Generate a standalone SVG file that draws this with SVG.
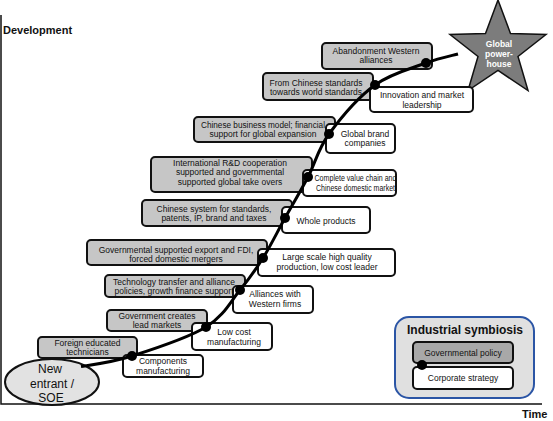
<svg xmlns="http://www.w3.org/2000/svg" width="553" height="421" viewBox="0 0 553 421">
<style>
text{font-family:"Liberation Sans",Arial,sans-serif;fill:#111;}
.t{font-size:8.5px;text-anchor:middle;}
.g{fill:#c6c6c6;stroke:#111;stroke-width:2;}
.w{fill:#fff;stroke:#111;stroke-width:2;}
.dot{fill:#000;}
.axis{stroke:#111;stroke-width:1.5;fill:none;}
.b{font-weight:bold;}
</style>
<rect width="553" height="421" fill="#fff"/>
<g id="axes">
<path class="axis" d="M1,15 V404 H542"/>
<text x="3" y="34" class="b" font-size="11">Development</text>
<text x="522" y="418" class="b" font-size="11">Time</text>
</g>
<g id="star">
<polygon points="498,0 510.5,33.5 546,34.5 518,56.5 528,90.5 498,70.5 468,90.5 478,56.5 450,34.5 485.5,33.5" fill="#7c7c7c" stroke="#111" stroke-width="1.5"/>
<text x="499" y="47" class="t b" style="fill:#fff">Global</text>
<text x="499" y="57" class="t b" style="fill:#fff">power-</text>
<text x="499" y="67" class="t b" style="fill:#fff">house</text>
</g>
<g id="new-entrant">
<ellipse cx="52" cy="382" rx="47" ry="23" fill="#e2e2e2" stroke="#111" stroke-width="2"/>
<text x="50" y="373" font-size="12" text-anchor="middle">New</text>
<text x="52" y="388" font-size="12" text-anchor="middle">entrant /</text>
<text x="51" y="402" font-size="12" text-anchor="middle">SOE</text>
</g>
<g id="n1"><rect class="g" x="38" y="337" width="99" height="21" rx="4"/><text class="t" x="87.5" y="346">Foreign educated</text><text class="t" x="87.5" y="355">technicians</text></g>
<g id="n2"><rect class="w" x="123" y="355" width="80" height="22" rx="4"/><text class="t" x="163" y="364">Components</text><text class="t" x="163" y="374">manufacturing</text></g>
<g id="n3"><rect class="g" x="107" y="310" width="100" height="21" rx="4"/><text class="t" x="157" y="319">Government creates</text><text class="t" x="157" y="328">lead markets</text></g>
<g id="n4"><rect class="w" x="192" y="323" width="80" height="27" rx="4"/><text class="t" x="234" y="335">Low cost</text><text class="t" x="234" y="345">manufacturing</text></g>
<g id="n5"><rect class="g" x="105" y="275" width="140" height="22" rx="4"/><text class="t" x="174" y="285">Technology transfer and alliance</text><text class="t" x="174" y="294">policies, growth finance support</text></g>
<g id="n6"><rect class="w" x="233" y="286" width="80" height="27" rx="4"/><text class="t" x="275" y="297">Alliances with</text><text class="t" x="275" y="307">Western firms</text></g>
<g id="n7"><rect class="g" x="87" y="240" width="180" height="25" rx="4"/><text class="t" x="176" y="253">Governmental supported export and FDI,</text><text class="t" x="176" y="262">forced domestic mergers</text></g>
<g id="n8"><rect class="w" x="258" y="249" width="137" height="27" rx="4"/><text class="t" x="327" y="260">Large scale high quality</text><text class="t" x="327" y="270">production, low cost leader</text></g>
<g id="n9"><rect class="g" x="142" y="200" width="150" height="26" rx="4"/><text class="t" x="214" y="212">Chinese system for standards,</text><text class="t" x="214" y="221">patents, IP,  brand and taxes</text></g>
<g id="n10"><rect class="w" x="282" y="207" width="88" height="26" rx="4"/><text class="t" x="326" y="224">Whole products</text></g>
<g id="n11"><rect class="g" x="151" y="157" width="161" height="35" rx="4"/><text class="t" x="230" y="166">International R&amp;D cooperation</text><text class="t" x="230" y="175">supported and governmental</text><text class="t" x="230" y="185">supported global take overs</text></g>
<g id="n12"><rect class="w" x="303" y="170" width="93" height="26" rx="4"/><text class="t" x="355.5" y="181" textLength="82" lengthAdjust="spacingAndGlyphs">Complete value chain and</text><text class="t" x="355.5" y="191" textLength="79" lengthAdjust="spacingAndGlyphs">Chinese domestic market</text></g>
<g id="n13"><rect class="g" x="194" y="117" width="141" height="25" rx="4"/><text class="t" x="263" y="128" textLength="124" lengthAdjust="spacingAndGlyphs">Chinese business model; financial</text><text class="t" x="263" y="137">support for global expansion</text></g>
<g id="n14"><rect class="w" x="326" y="124" width="69" height="29" rx="4"/><text class="t" x="365" y="137">Global brand</text><text class="t" x="365" y="146">companies</text></g>
<g id="n15"><rect class="g" x="263" y="73" width="110" height="27" rx="4"/><text class="t" x="316" y="86">From Chinese standards</text><text class="t" x="316" y="95">towards world standards</text></g>
<g id="n16"><rect class="w" x="370" y="87" width="103" height="25" rx="4"/><text class="t" x="422" y="98">Innovation and market</text><text class="t" x="422" y="108">leadership</text></g>
<g id="n17"><rect class="g" x="322" y="43" width="110" height="26" rx="4"/><text class="t" x="376" y="54">Abandonment Western</text><text class="t" x="376" y="63">alliances</text></g>
<g id="connectors">
<path d="M81,366.5 C88.7,365.2 111,362.7 132,356 C153,349.3 188,338 206,327 C224,316 230.5,301.5 240,290 C249.5,278.5 255.5,270 263,258 C270.5,246 277.5,231.5 285,218 C292.5,204.5 300.7,191 308,177 C315.3,163 317.8,149.3 329,134 C340.2,118.7 358.8,96.8 375,85 C391.2,73.2 412.2,68.2 426,63 C439.8,57.8 452.7,55.5 458,54" fill="none" stroke="#000" stroke-width="3"/>
<circle class="dot" cx="132" cy="356" r="5"/>
<circle class="dot" cx="206" cy="327" r="5"/>
<circle class="dot" cx="240" cy="290" r="5"/>
<circle class="dot" cx="263" cy="258" r="5"/>
<circle class="dot" cx="285" cy="218" r="5"/>
<circle class="dot" cx="308" cy="177" r="5"/>
<circle class="dot" cx="329" cy="134" r="5"/>
<circle class="dot" cx="375" cy="85" r="5"/>
<circle class="dot" cx="426" cy="63" r="5"/>
</g>
<g id="legend">
<rect x="395" y="317" width="139" height="81" rx="14" fill="#e0e0e0" stroke="#2b55a5" stroke-width="2"/>
<text x="465" y="334" class="b" font-size="12" text-anchor="middle">Industrial symbiosis</text>
<rect x="413" y="342" width="100" height="21" rx="4" fill="#a8a8a8" stroke="#111" stroke-width="2"/>
<text class="t" x="463" y="356">Governmental policy</text>
<rect class="w" x="413" y="367" width="100" height="22" rx="4"/>
<text class="t" x="463" y="381">Corporate strategy</text>
<circle class="dot" cx="422" cy="365" r="5"/>
</g>
</svg>
